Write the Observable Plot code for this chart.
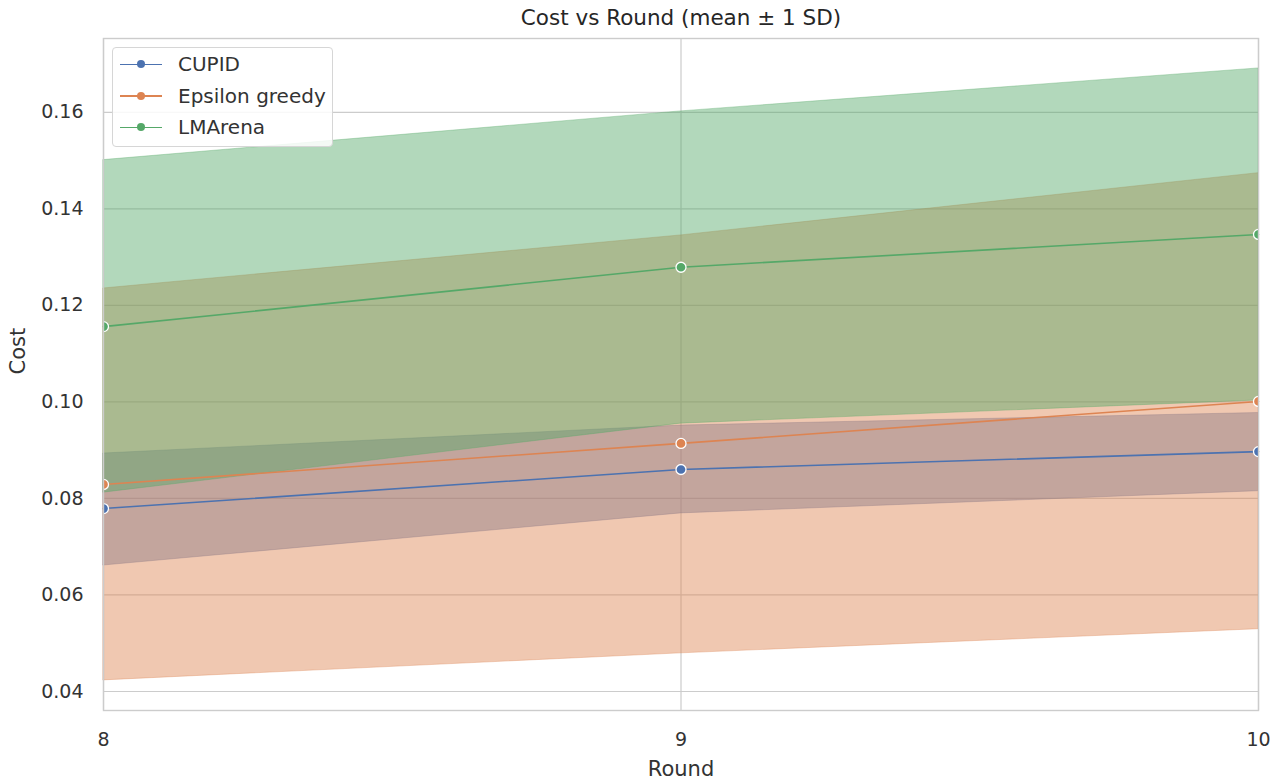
<!DOCTYPE html>
<html>
<head>
<meta charset="utf-8">
<script src="https://cdn.jsdelivr.net/npm/d3@7"></script>
<script src="https://cdn.jsdelivr.net/npm/@observablehq/plot@0.6"></script>
<style>
  html, body { margin: 0; padding: 0; background: #fff; }
  #wrap { position: relative; width: 1282px; height: 780px; font-family: "DejaVu Sans", sans-serif; }
  #legend { position: absolute; left: 112px; top: 47px; width: 221px; height: 100px; border: 1px solid #d6d6d6; border-radius: 4px; background: rgba(255,255,255,0.85); box-sizing: border-box; }
  .row { position: absolute; left: 0; height: 24px; display: flex; align-items: center; font-size: 20px; color: #333; white-space: nowrap; }
  .sw { position: relative; width: 42px; height: 24px; margin-left: 7px; margin-right: 16px; }
  .sw .ln { position: absolute; left: 0; right: 0; top: 11.5px; height: 1.5px; }
  .sw .dt { position: absolute; left: 17px; top: 8px; width: 8px; height: 8px; border-radius: 50%; }
</style>
</head>
<body>
<div id="wrap"><div id="chart"></div><div id="legend"></div></div>
<script>
const rounds = [8, 9, 10];
const seriesNames = ["CUPID", "Epsilon greedy", "LMArena"];
const seriesColors = ["#4c72b0", "#dd8452", "#55a868"];

const cupidMean = [0.0779, 0.0860, 0.0897];
const cupidLow  = [0.0661, 0.0769, 0.0815];
const cupidHigh = [0.0893, 0.0951, 0.0977];

const epsMean = [0.0829, 0.0914, 0.1001];
const epsLow  = [0.0423, 0.0479, 0.0529];
const epsHigh = [0.1235, 0.1345, 0.1474];

const lmaMean = [0.1156, 0.1279, 0.1347];
const lmaLow  = [0.0812, 0.0955, 0.1003];
const lmaHigh = [0.1501, 0.1602, 0.1691];

const yTicks = [0.04, 0.06, 0.08, 0.10, 0.12, 0.14, 0.16];
const yTickLabels = ["0.04", "0.06", "0.08", "0.10", "0.12", "0.14", "0.16"];

const groups = [
  [seriesNames[0], cupidMean, cupidLow, cupidHigh],
  [seriesNames[1], epsMean, epsLow, epsHigh],
  [seriesNames[2], lmaMean, lmaLow, lmaHigh]
];
const data = groups.flatMap(([s, m, lo, hi]) =>
  rounds.map((r, i) => ({series: s, round: r, mean: m[i], low: lo[i], high: hi[i]})));

const chart = Plot.plot({
  width: 1282,
  height: 780,
  marginLeft: 103,
  marginRight: 24,
  marginTop: 38,
  marginBottom: 70,
  style: {fontFamily: "DejaVu Sans, sans-serif", fontSize: "19px", color: "#333", background: "#fff"},
  x: {domain: [8, 10], ticks: rounds, label: null},
  y: {domain: [0.03606, 0.1753], label: null},
  color: {domain: seriesNames, range: seriesColors},
  marks: [
    Plot.gridY(yTicks, {stroke: "#cccccc", strokeOpacity: 1, strokeWidth: 1.2}),
    Plot.gridX(rounds, {stroke: "#cccccc", strokeOpacity: 1, strokeWidth: 1.2}),
    Plot.areaY(data, {x: "round", y1: "low", y2: "high", z: "series", fill: "series", fillOpacity: 0.45,
      stroke: "series", strokeOpacity: 0.35, strokeWidth: 1}),
    Plot.lineY(data, {x: "round", y: "mean", z: "series", stroke: "series", strokeWidth: 1.6}),
    Plot.dot(data, {x: "round", y: "mean", fill: "series", stroke: "white", strokeWidth: 1.3, r: 5, clip: true}),
    Plot.frame({stroke: "#cccccc", strokeWidth: 1.4}),
    Plot.axisY(yTicks, {tickSize: 0, tickPadding: 20, tickFormat: (d, i) => yTickLabels[i], fontSize: 19, fill: "#333"}),
    Plot.axisX(rounds, {tickSize: 0, tickPadding: 22, tickFormat: d => String(d), fontSize: 19, fill: "#333"}),
    Plot.text(["Cost vs Round (mean ± 1 SD)"], {frameAnchor: "top", dy: -29, fontSize: 21.5, fill: "#262626"}),
    Plot.text(["Round"], {frameAnchor: "bottom", dy: 65, fontSize: 21, fill: "#333"}),
    Plot.text(["Cost"], {frameAnchor: "left", dx: -85, rotate: -90, fontSize: 21, fill: "#333"})
  ]
});
document.getElementById("chart").appendChild(chart);

const legend = document.getElementById("legend");
seriesNames.forEach((name, i) => {
  const row = document.createElement("div");
  row.className = "row";
  row.style.top = (4 + i * 31.5) + "px";
  row.innerHTML = `<div class="sw"><div class="ln" style="background:${seriesColors[i]}"></div><div class="dt" style="background:${seriesColors[i]}"></div></div><span>${name}</span>`;
  legend.appendChild(row);
});
</script>
</body>
</html>
